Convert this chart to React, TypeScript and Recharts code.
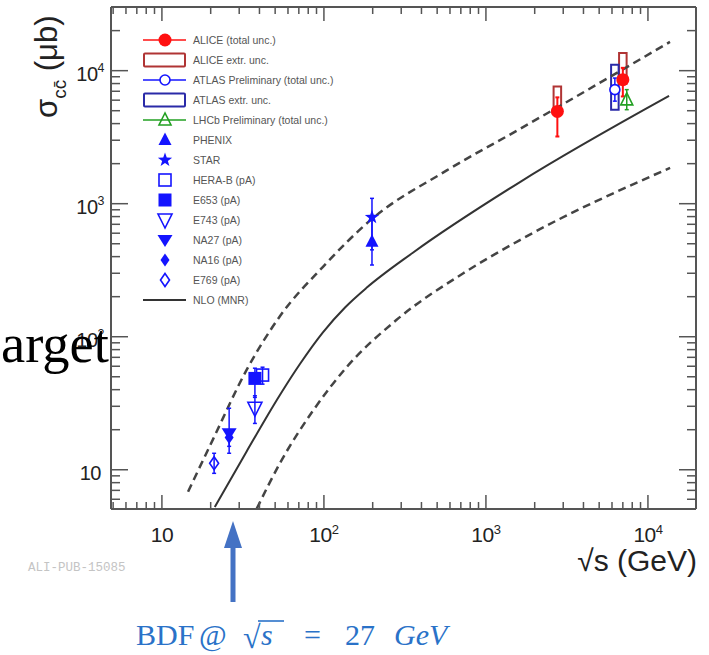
import React from 'react';
import { ComposedChart, XAxis, YAxis, Line, Scatter, ErrorBar, ReferenceArea } from 'recharts';

const W = 709;
const H = 655;
const X_DOMAIN: [number, number] = [4.85, 19800];
const Y_DOMAIN: [number, number] = [5.07, 30100];

// ---------- tick values ----------
const xTicks = [5, 6, 7, 8, 9, 10, 20, 30, 40, 50, 60, 70, 80, 90, 100, 200, 300, 400, 500, 600, 700, 800, 900, 1000, 2000, 3000, 4000, 5000, 6000, 7000, 8000, 9000, 10000];
const yTicks = [6, 7, 8, 9, 10, 20, 30, 40, 50, 60, 70, 80, 90, 100, 200, 300, 400, 500, 600, 700, 800, 900, 1000, 2000, 3000, 4000, 5000, 6000, 7000, 8000, 9000, 10000, 20000];

// ---------- NLO (MNR) curves ----------
const nloCentralX = [21.2, 33.4, 53.5, 71.1, 98.6, 135, 184, 354, 1622, 13500];
const nloCentralY = [5.24, 13.8, 36.5, 62.4, 108, 166, 234, 428, 1455, 6460];
const nloUpperX = [14.5, 20.7, 33.4, 53.5, 99, 197, 573, 1622, 13680];
const nloUpperY = [6.84, 17.0, 56.6, 142.6, 337, 765, 1778, 3650, 16450];
const nloLowerX = [38.5, 53.5, 86, 138, 281, 725, 1620, 13700];
const nloLowerY = [5.1, 11.2, 28, 59, 134, 300, 533, 1860];

// ---------- measurements ----------
const aliceX = [2760, 7000];
const aliceY = [4940, 8560];
const aliceLo = [3200, 6400];
const aliceHi = [6300, 10500];
const aliceBoxLo = [4950, 8000];
const aliceBoxHi = [7600, 13600];

const atlasX = [6250];
const atlasY = [7200];
const atlasLo = [5900];
const atlasHi = [8800];
const atlasBoxLo = [5090];
const atlasBoxHi = [11100];

const lhcbX = [7400];
const lhcbY = [6030];
const lhcbLo = [5090];
const lhcbHi = [7200];

const phenixX = [198];
const phenixY = [518];
const phenixLo = [346];
const phenixHi = [800];

const starX = [198];
const starY = [791];
const starLo = [450];
const starHi = [1097];

const herabX = [41.8];
const herabY = [51.5];
const herabLo = [44];
const herabHi = [59];

const e653X = [37.5];
const e653Y = [48.6];
const e653Lo = [35];
const e653Hi = [58];

const e743X = [37.5];
const e743Y = [29];
const e743Lo = [22.3];
const e743Hi = [36];

const na27X = [26];
const na27Y = [18.8];
const na27Lo = [13.3];
const na27Hi = [29];

const na16X = [26];
const na16Y = [17.5];
const na16Lo = [15];
const na16Hi = [20];

const e769X = [21];
const e769Y = [11.2];
const e769Lo = [9.4];
const e769Hi = [13.3];

const legendLabels = [
  'ALICE (total unc.)',
  'ALICE extr. unc.',
  'ATLAS Preliminary (total unc.)',
  'ATLAS extr. unc.',
  'LHCb Preliminary (total unc.)',
  'PHENIX',
  'STAR',
  'HERA-B (pA)',
  'E653 (pA)',
  'E743 (pA)',
  'NA27 (pA)',
  'NA16 (pA)',
  'E769 (pA)',
  'NLO (MNR)',
];

// ---------- styles ----------
const RED = '#ff1010';
const DRED = '#b03434';
const BLUE = '#1414ff';
const DBLUE = '#2a2aa8';
const GREEN = '#22a022';
const AXIS = '#555';
const SANS = '"Liberation Sans", Arial, Helvetica, sans-serif';
const BOX_HALF = 1.055;

const legendKinds = ['lineCircle', 'box', 'lineOCircle', 'box', 'lineOTri', 'triangle', 'star', 'osquare', 'square', 'otridown', 'tridown', 'diamond', 'odiamond', 'line'];
const legendColors = [RED, DRED, BLUE, DBLUE, GREEN, BLUE, BLUE, BLUE, BLUE, BLUE, BLUE, BLUE, BLUE, '#333'];

const curve = (xs: number[], ys: number[]) => xs.map((x, i) => ({ x, y: ys[i] }));
const points = (xs: number[], ys: number[], lo: number[], hi: number[]) =>
  xs.map((x, i) => ({ x, y: ys[i], err: [ys[i] - lo[i], hi[i] - ys[i]] }));

const isMajor = (v: number) => Math.abs(Math.log10(v) - Math.round(Math.log10(v))) < 1e-6;

function starPath(cx: number, cy: number, R: number, r: number) {
  const pts: string[] = [];
  for (let i = 0; i < 10; i++) {
    const a = -Math.PI / 2 + (i * Math.PI) / 5;
    const rad = i % 2 === 0 ? R : r;
    pts.push(`${cx + rad * Math.cos(a)},${cy + rad * Math.sin(a)}`);
  }
  return pts.join(' ');
}

function Marker({ cx, cy, kind, color }: { cx: number; cy: number; kind: string; color: string }) {
  if (cx == null || cy == null) return <g />;
  const sw = 1.6;
  switch (kind) {
    case 'circle':
      return <circle cx={cx} cy={cy} r={6.5} fill={color} />;
    case 'ocircle':
      return <circle cx={cx} cy={cy} r={5} fill="#fff" stroke={color} strokeWidth={sw} />;
    case 'triangle':
      return <polygon points={`${cx},${cy - 7.5} ${cx - 6.5},${cy + 5} ${cx + 6.5},${cy + 5}`} fill={color} />;
    case 'otri':
      return <polygon points={`${cx},${cy - 7} ${cx - 6},${cy + 5} ${cx + 6},${cy + 5}`} fill="none" stroke={color} strokeWidth={sw} />;
    case 'tridown':
      return <polygon points={`${cx},${cy + 7} ${cx - 7.5},${cy - 5} ${cx + 7.5},${cy - 5}`} fill={color} />;
    case 'otridown':
      return <polygon points={`${cx},${cy + 8} ${cx - 7},${cy - 6} ${cx + 7},${cy - 6}`} fill="none" stroke={color} strokeWidth={sw} />;
    case 'square':
      return <rect x={cx - 6.5} y={cy - 6.5} width={13} height={13} fill={color} />;
    case 'osquare':
      return <rect x={cx - 6} y={cy - 6} width={12} height={12} fill="none" stroke={color} strokeWidth={sw} />;
    case 'diamond':
      return <polygon points={`${cx},${cy - 6.5} ${cx + 4.5},${cy} ${cx},${cy + 6.5} ${cx - 4.5},${cy}`} fill={color} />;
    case 'odiamond':
      return <polygon points={`${cx},${cy - 6.5} ${cx + 4.5},${cy} ${cx},${cy + 6.5} ${cx - 4.5},${cy}`} fill="none" stroke={color} strokeWidth={sw} />;
    case 'star':
      return <polygon points={starPath(cx, cy, 7.5, 3)} fill={color} />;
    default:
      return <g />;
  }
}

const shapeOf = (kind: string, color: string) => (p: any) => <Marker cx={p.cx} cy={p.cy} kind={kind} color={color} />;

function Label10({ x, y, v, anchor, size, sup }: any) {
  const e = Math.round(Math.log10(v));
  return (
    <text x={x} y={y} textAnchor={anchor} fontFamily={SANS} fontSize={size} fill="#222" letterSpacing={-0.5}>
      10
      {e > 1 && (
        <tspan dy={-sup} fontSize={size * 0.62}>
          {e}
        </tspan>
      )}
    </text>
  );
}

function BottomTick(props: any) {
  const { x, y, payload } = props;
  const major = isMajor(payload.value);
  return (
    <g>
      <line x1={x} x2={x} y1={y} y2={y - (major ? 14 : 7)} stroke={AXIS} strokeWidth={1.5} />
      {major && <Label10 x={x} y={y + 33} v={payload.value} anchor="middle" size={21} sup={8} />}
    </g>
  );
}
function TopTick(props: any) {
  const { x, y, payload } = props;
  const major = isMajor(payload.value);
  return <line x1={x} x2={x} y1={y} y2={y + (major ? 14 : 7)} stroke={AXIS} strokeWidth={1.5} />;
}
function LeftTick(props: any) {
  const { x, y, payload } = props;
  const v = payload.value;
  const major = isMajor(v);
  const e = Math.round(Math.log10(v));
  return (
    <g>
      <line x1={x} x2={x + (major ? 17 : 9)} y1={y} y2={y} stroke={AXIS} strokeWidth={1.5} />
      {major && <Label10 x={e > 1 ? x - 7 : x - 10} y={y + 10} v={v} anchor="end" size={20} sup={9} />}
    </g>
  );
}
function RightTick(props: any) {
  const { x, y, payload } = props;
  const major = isMajor(payload.value);
  return <line x1={x} x2={x - (major ? 17 : 9)} y1={y} y2={y} stroke={AXIS} strokeWidth={1.5} />;
}

function LegendSymbol({ kind, color, cy }: { kind: string; color: string; cy: number }) {
  const cx = 165;
  const line = <line x1={143} x2={186} y1={cy} y2={cy} stroke={color} strokeWidth={1.6} />;
  switch (kind) {
    case 'lineCircle':
      return (<g>{line}<Marker cx={cx} cy={cy} kind="circle" color={color} /></g>);
    case 'lineOCircle':
      return (<g>{line}<Marker cx={cx} cy={cy} kind="ocircle" color={color} /></g>);
    case 'lineOTri':
      return (<g>{line}<Marker cx={cx} cy={cy} kind="otri" color={color} /></g>);
    case 'box':
      return <rect x={144} y={cy - 6.5} width={41} height={13} rx={1} fill="none" stroke={color} strokeWidth={2} />;
    case 'line':
      return <line x1={143} x2={186} y1={cy} y2={cy} stroke={color} strokeWidth={2} />;
    default:
      return <Marker cx={cx} cy={cy} kind={kind} color={color} />;
  }
}

function Overlay() {
  const BDF = '#2a72c8';
  return (
    <svg width={W} height={H} style={{ position: 'absolute', left: 0, top: 0, pointerEvents: 'none' }}>
      {/* legend */}
      {legendLabels.map((lab, i) => {
        const cy = 40 + i * 20;
        return (
          <g key={lab}>
            <LegendSymbol kind={legendKinds[i]} color={legendColors[i]} cy={cy} />
            <text x={193} y={cy + 4} fontFamily={SANS} fontSize={10.5} fill="#555">
              {lab}
            </text>
          </g>
        );
      })}
      {/* y axis title */}
      <text transform="rotate(-90)" x={-118} y={57} fontFamily={SANS} fontSize={31} fill="#222">
        σ
        <tspan fontSize={19} dy={9}>cc̄</tspan>
        <tspan fontSize={31} dy={-9}>{' (μb)'}</tspan>
      </text>
      {/* x axis title */}
      <text x={697} y={571} textAnchor="end" fontFamily={SANS} fontSize={30} fill="#222">
        √s (GeV)
      </text>
      <text x={28} y={571} fontFamily='"Liberation Mono", monospace' fontSize={12.5} fill="#c4c4c4">
        ALI-PUB-15085
      </text>
      {/* slide remnant */}
      <text x={1} y={362} fontFamily='"Liberation Serif", "Times New Roman", serif' fontSize={54.5} fill="#000">
        arget
      </text>
      {/* BDF annotation */}
      <rect x={230.5} y={545} width={5} height={57} fill="#4472c4" />
      <polygon points="233,521 224,548 242,548" fill="#4472c4" />
      <g fontFamily='"Liberation Serif", "DejaVu Serif", serif' fontSize={30} fill={BDF}>
        <text x={136} y={645}>BDF</text>
        <text x={199} y={645}>@</text>
        <text x={243} y={648} fontSize={32}>√</text>
        <line x1={258} x2={284} y1={621} y2={621} stroke={BDF} strokeWidth={1.6} />
        <text x={261} y={645} fontStyle="italic">s</text>
        <text x={304} y={645}>=</text>
        <text x={345} y={645}>27</text>
        <text x={394} y={645} fontStyle="italic">GeV</text>
      </g>
    </svg>
  );
}

export default function App() {
  const axisLine = { stroke: AXIS, strokeWidth: 2 };
  return (
    <div style={{ position: 'absolute', left: 0, top: 0, width: W, height: H, background: '#fff' }}>
      <ComposedChart width={W} height={H} margin={{ left: 110, right: 12, top: 6, bottom: 145 }}>
        <XAxis xAxisId="b" type="number" dataKey="x" scale="log" domain={X_DOMAIN} allowDataOverflow ticks={xTicks} interval={0}
          tick={<BottomTick />} tickLine={false} tickSize={0} tickMargin={0} height={1} axisLine={axisLine} />
        <XAxis xAxisId="t" orientation="top" type="number" dataKey="x" scale="log" domain={X_DOMAIN} allowDataOverflow ticks={xTicks} interval={0}
          tick={<TopTick />} tickLine={false} tickSize={0} tickMargin={0} height={1} axisLine={axisLine} />
        <YAxis yAxisId="l" type="number" dataKey="y" scale="log" domain={Y_DOMAIN} allowDataOverflow ticks={yTicks} interval={0}
          tick={<LeftTick />} tickLine={false} tickSize={0} tickMargin={0} width={1} axisLine={axisLine} />
        <YAxis yAxisId="r" orientation="right" type="number" dataKey="y" scale="log" domain={Y_DOMAIN} allowDataOverflow ticks={yTicks} interval={0}
          tick={<RightTick />} tickLine={false} tickSize={0} tickMargin={0} width={1} axisLine={axisLine} />

        <Scatter xAxisId="t" yAxisId="r" data={[{ x: 10, y: 10 }]} shape={() => <g />} isAnimationActive={false} />

        <Line xAxisId="b" yAxisId="l" data={curve(nloUpperX, nloUpperY)} dataKey="y" type="monotone" dot={false} stroke="#444" strokeWidth={2.5} strokeDasharray="8 5" isAnimationActive={false} />
        <Line xAxisId="b" yAxisId="l" data={curve(nloLowerX, nloLowerY)} dataKey="y" type="monotone" dot={false} stroke="#444" strokeWidth={2.5} strokeDasharray="8 5" isAnimationActive={false} />
        <Line xAxisId="b" yAxisId="l" data={curve(nloCentralX, nloCentralY)} dataKey="y" type="monotone" dot={false} stroke="#333" strokeWidth={2} isAnimationActive={false} />

        {aliceX.map((x, i) => (
          <ReferenceArea key={'ab' + i} xAxisId="b" yAxisId="l" x1={x / BOX_HALF} x2={x * BOX_HALF} y1={aliceBoxLo[i]} y2={aliceBoxHi[i]} fill="none" stroke={DRED} strokeWidth={2} />
        ))}
        {atlasX.map((x, i) => (
          <ReferenceArea key={'tb' + i} xAxisId="b" yAxisId="l" x1={x / BOX_HALF} x2={x * BOX_HALF} y1={atlasBoxLo[i]} y2={atlasBoxHi[i]} fill="none" stroke={DBLUE} strokeWidth={2} />
        ))}

        <Scatter xAxisId="b" yAxisId="l" data={points(atlasX, atlasY, atlasLo, atlasHi)} shape={shapeOf('ocircle', BLUE)} isAnimationActive={false}>
          <ErrorBar dataKey="err" direction="y" width={2} stroke={BLUE} strokeWidth={1.5} />
        </Scatter>
        <Scatter xAxisId="b" yAxisId="l" data={points(lhcbX, lhcbY, lhcbLo, lhcbHi)} shape={shapeOf('otri', GREEN)} isAnimationActive={false}>
          <ErrorBar dataKey="err" direction="y" width={2} stroke={GREEN} strokeWidth={1.5} />
        </Scatter>
        <Scatter xAxisId="b" yAxisId="l" data={points(aliceX, aliceY, aliceLo, aliceHi)} shape={shapeOf('circle', RED)} isAnimationActive={false}>
          <ErrorBar dataKey="err" direction="y" width={2} stroke={RED} strokeWidth={2} />
        </Scatter>
        <Scatter xAxisId="b" yAxisId="l" data={points(starX, starY, starLo, starHi)} shape={shapeOf('star', BLUE)} isAnimationActive={false}>
          <ErrorBar dataKey="err" direction="y" width={2} stroke={BLUE} strokeWidth={1.5} />
        </Scatter>
        <Scatter xAxisId="b" yAxisId="l" data={points(phenixX, phenixY, phenixLo, phenixHi)} shape={shapeOf('triangle', BLUE)} isAnimationActive={false}>
          <ErrorBar dataKey="err" direction="y" width={2} stroke={BLUE} strokeWidth={1.5} />
        </Scatter>
        <Scatter xAxisId="b" yAxisId="l" data={points(herabX, herabY, herabLo, herabHi)} shape={shapeOf('osquare', BLUE)} isAnimationActive={false}>
          <ErrorBar dataKey="err" direction="y" width={2} stroke={BLUE} strokeWidth={1.5} />
        </Scatter>
        <Scatter xAxisId="b" yAxisId="l" data={points(e653X, e653Y, e653Lo, e653Hi)} shape={shapeOf('square', BLUE)} isAnimationActive={false}>
          <ErrorBar dataKey="err" direction="y" width={2} stroke={BLUE} strokeWidth={1.5} />
        </Scatter>
        <Scatter xAxisId="b" yAxisId="l" data={points(e743X, e743Y, e743Lo, e743Hi)} shape={shapeOf('otridown', BLUE)} isAnimationActive={false}>
          <ErrorBar dataKey="err" direction="y" width={2} stroke={BLUE} strokeWidth={1.5} />
        </Scatter>
        <Scatter xAxisId="b" yAxisId="l" data={points(na16X, na16Y, na16Lo, na16Hi)} shape={shapeOf('diamond', BLUE)} isAnimationActive={false}>
          <ErrorBar dataKey="err" direction="y" width={2} stroke={BLUE} strokeWidth={1.5} />
        </Scatter>
        <Scatter xAxisId="b" yAxisId="l" data={points(na27X, na27Y, na27Lo, na27Hi)} shape={shapeOf('tridown', BLUE)} isAnimationActive={false}>
          <ErrorBar dataKey="err" direction="y" width={2} stroke={BLUE} strokeWidth={1.5} />
        </Scatter>
        <Scatter xAxisId="b" yAxisId="l" data={points(e769X, e769Y, e769Lo, e769Hi)} shape={shapeOf('odiamond', BLUE)} isAnimationActive={false}>
          <ErrorBar dataKey="err" direction="y" width={2} stroke={BLUE} strokeWidth={1.5} />
        </Scatter>
      </ComposedChart>
      <Overlay />
    </div>
  );
}
